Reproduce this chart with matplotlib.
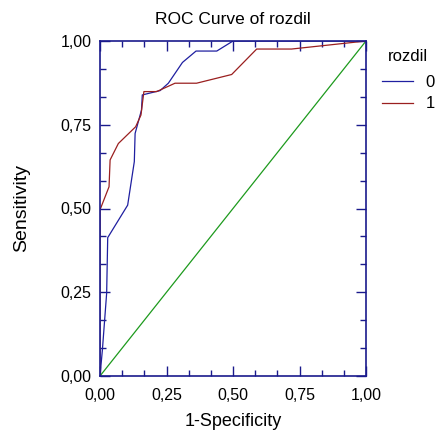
import matplotlib
matplotlib.use("Agg")
import matplotlib.pyplot as plt
from matplotlib.ticker import FixedLocator, FixedFormatter, MultipleLocator

# data
fpr0 = [0.0, 0.009, 0.025, 0.029, 0.104, 0.129, 0.132, 0.156, 0.159, 0.226, 0.257, 0.31, 0.361, 0.439, 0.5, 1.0]
tpr0 = [0.0, 0.078, 0.247, 0.413, 0.51, 0.64, 0.724, 0.794, 0.839, 0.852, 0.874, 0.936, 0.97, 0.97, 1.0, 1.0]
fpr1 = [0.0, 0.0, 0.034, 0.038, 0.069, 0.134, 0.154, 0.165, 0.213, 0.282, 0.363, 0.495, 0.589, 0.72, 1.0]
tpr1 = [0.0, 0.496, 0.565, 0.645, 0.694, 0.744, 0.779, 0.849, 0.849, 0.874, 0.874, 0.9, 0.976, 0.976, 1.0]
diag = [0.0, 1.0]
tick_vals = [0.0, 0.25, 0.5, 0.75, 1.0]
tick_labels = ["0,00", "0,25", "0,50", "0,75", "1,00"]
series_names = ["0", "1"]

plt.rcParams['font.family'] = ['Liberation Sans', 'DejaVu Sans']

fig = plt.figure(figsize=(4.38, 4.30), dpi=100)
ax = fig.add_axes([100/438, 54/430, 266/438, 335/430])

navy = '#1a1a8c'
l0, = ax.plot(fpr0, tpr0, color='#1f1fa0', lw=0.9, label=series_names[0])
l1, = ax.plot(fpr1, tpr1, color='#9a1f1f', lw=0.9, label=series_names[1])
ax.plot(diag, diag, color='#1d9a1d', lw=0.9)

ax.set_xlim(0, 1)
ax.set_ylim(0, 1)
for a in (ax.xaxis, ax.yaxis):
    a.set_major_locator(FixedLocator(tick_vals))
    a.set_major_formatter(FixedFormatter(tick_labels))
    a.set_minor_locator(MultipleLocator(1/12))
ax.tick_params(which='both', direction='in', top=True, right=True, color=navy,
               labelsize=11.5, labelcolor='black', width=1)
ax.tick_params(which='major', length=7)
ax.tick_params(which='minor', length=4)
ax.tick_params(axis='x', which='major', pad=9)
ax.tick_params(axis='y', which='major', pad=6)
for s in ax.spines.values():
    s.set_color(navy)
    s.set_linewidth(1.2)

ax.set_title("ROC Curve of rozdil", fontsize=12.5, pad=12)
ax.set_xlabel("1-Specificity", fontsize=13)
ax.set_ylabel("Sensitivity", fontsize=14)
ax.xaxis.set_label_coords(0.5, -(413 - 376) / 335)
ax.yaxis.set_label_coords((30 - 100) / 266, 0.5)

leg = fig.legend(handles=[l0, l1], title="rozdil", loc='upper left',
                 bbox_to_anchor=(375/438, 1 - 42/430), frameon=False,
                 fontsize=12, title_fontsize=12, handlelength=1.9,
                 handletextpad=0.75, labelspacing=0.4, borderaxespad=0)
leg._legend_box.sep = 8

fig.savefig("out.png", dpi=100)
